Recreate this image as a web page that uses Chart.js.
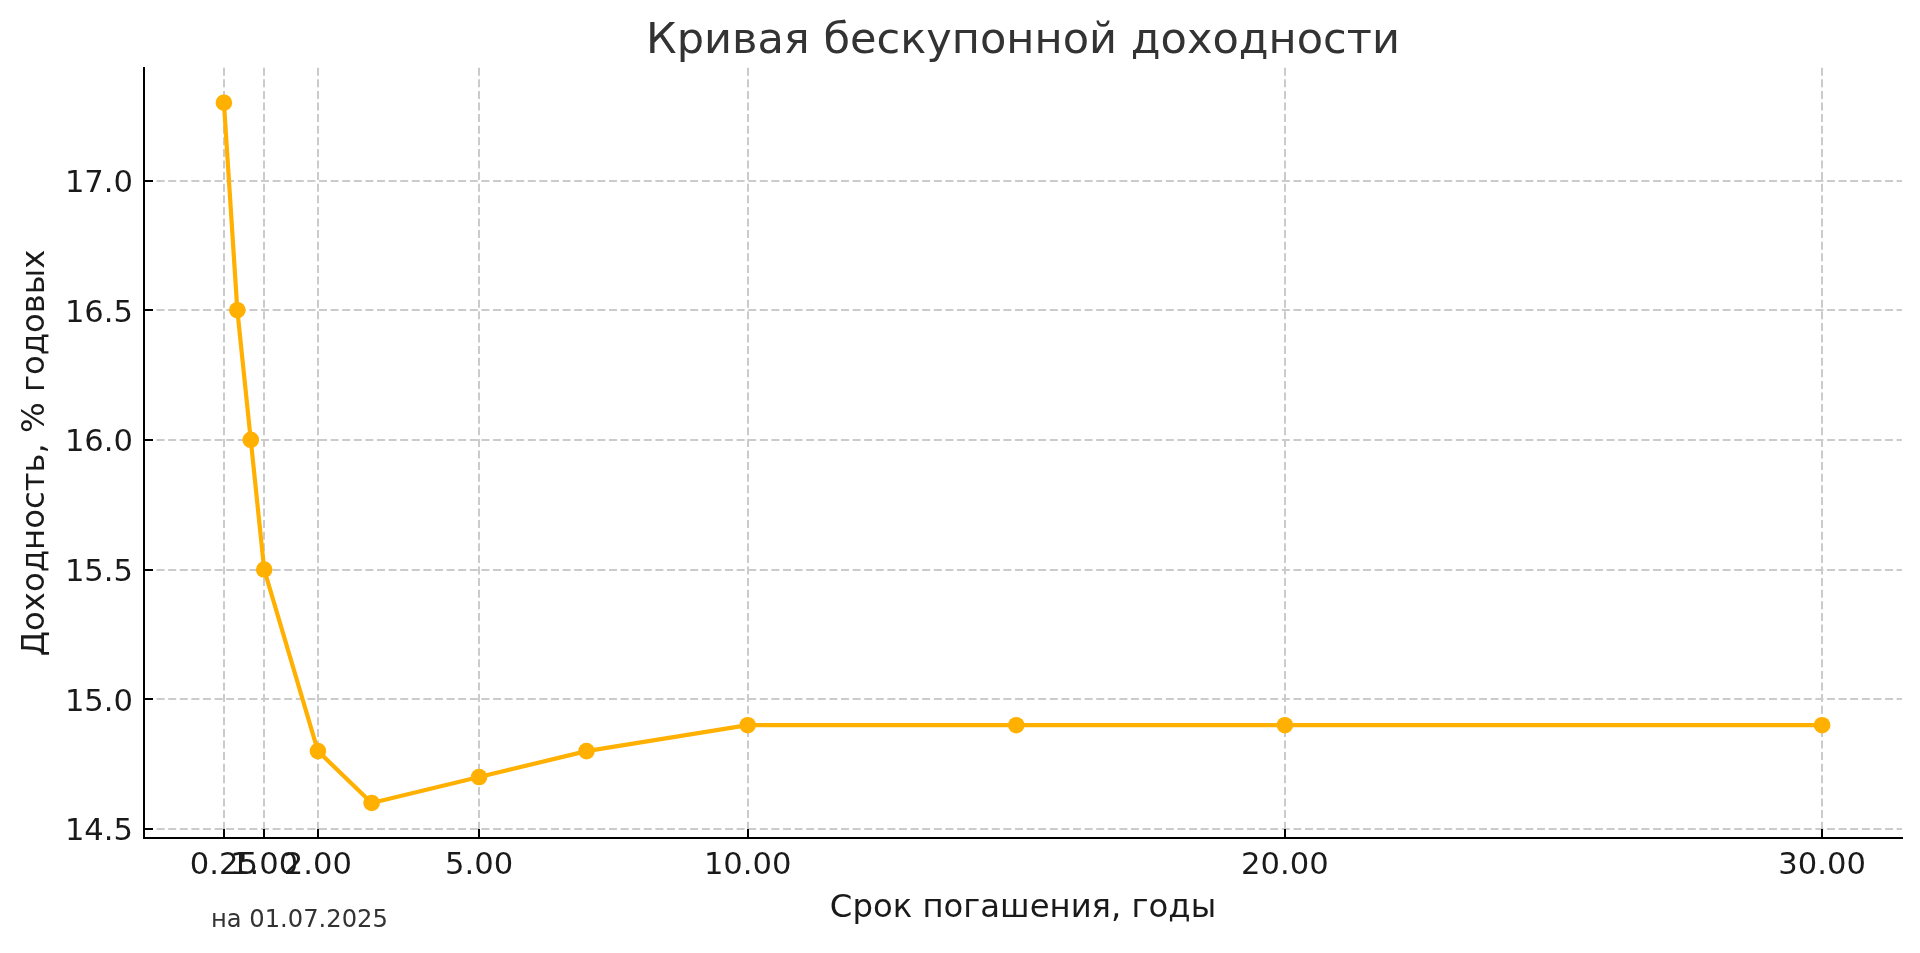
<!DOCTYPE html>
<html>
<head>
<meta charset="utf-8">
<title>Кривая бескупонной доходности</title>
<script src="https://cdn.jsdelivr.net/npm/chart.js@4.4.1/dist/chart.umd.min.js"></script>
<style>
  html, body { margin: 0; padding: 0; background: #fff; }
  #wrap { width: 1920px; height: 953px; }
</style>
</head>
<body>
<div id="wrap"><canvas id="yieldChart" width="1920" height="953"></canvas></div>
<script>
// срок погашения, лет
var maturities = [0.25, 0.5, 0.75, 1, 2, 3, 5, 7, 10, 15, 20, 30];
// доходность, % годовых
var yields = [17.3, 16.5, 16.0, 15.5, 14.8, 14.6, 14.7, 14.8, 14.9, 14.9, 14.9, 14.9];

// tick positions as in the picture
var xTicks = [0.25, 1, 2, 5, 10, 20, 30];
var yTicks = [14.5, 15.0, 15.5, 16.0, 16.5, 17.0];
var xLimits = [-1.2375, 31.4875];
var yLimits = [14.465, 17.435];

var titleText = 'Кривая бескупонной доходности';
var xLabel = 'Срок погашения, годы';
var yLabel = 'Доходность, % годовых';
var note = 'на 01.07.2025';

var FONT = '"DejaVu Sans", "Noto Sans", sans-serif';
var lineColor = '#ffb000';

var points = maturities.map(function (m, i) {
    return {x: m, y: yields[i]};
});

<!-- ticks pointing inward + small date note -->
var extras = {
    id: 'extras',
    beforeDatasetsDraw: function (chart) {
        var ctx = chart.ctx, xs = chart.scales.x, ys = chart.scales.y;
        ctx.save();
        ctx.strokeStyle = '#000';
        ctx.lineWidth = 2;
        ctx.beginPath();
        xTicks.forEach(function (v) {
            var p = Math.round(xs.getPixelForValue(v));
            ctx.moveTo(p, xs.top);
            ctx.lineTo(p, xs.top - 9);
        });
        yTicks.forEach(function (v) {
            var p = Math.round(ys.getPixelForValue(v));
            ctx.moveTo(ys.right, p);
            ctx.lineTo(ys.right + 9, p);
        });
        ctx.stroke();
        ctx.restore();
    },
    afterDraw: function (chart) {
        var ctx = chart.ctx;
        ctx.save();
        ctx.font = '24.2px ' + FONT;
        ctx.fillStyle = '#333';
        ctx.textBaseline = 'middle';
        ctx.textAlign = 'left';
        ctx.fillText(note, 211, 921);
        ctx.restore();
    }
};

new Chart(document.getElementById('yieldChart'), {
    type: 'scatter',
    data: {
        datasets: [{
            label: yLabel,
            data: points,
            showLine: true,
            borderColor: lineColor,
            backgroundColor: lineColor,
            borderWidth: 4.2,
            pointRadius: 8.3,
            pointBorderWidth: 0,
            pointHoverRadius: 8.3,
            tension: 0
        }]
    },
    options: {
        responsive: false,
        devicePixelRatio: 1,
        animation: false,
        layout: {padding: {left: 0, right: 18, top: 0, bottom: 0}},
        plugins: {
            legend: {display: false},
            tooltip: {enabled: false},
            title: {
                display: true,
                text: titleText,
                fullSize: false,
                color: '#333',
                font: {family: FONT, size: 43.1, weight: 'normal'},
                padding: {top: 16, bottom: 0}
            }
        },
        scales: {
            x: {
                type: 'linear',
                min: xLimits[0],
                max: xLimits[1],
                afterBuildTicks: function (s) {
                    s.ticks = xTicks.map(function (v) { return {value: v}; });
                },
                afterFit: function (s) { s.height = 115; },
                ticks: {
                    autoSkip: false, maxRotation: 0, minRotation: 0,
                    padding: 10, color: '#1a1a1a',
                    font: {family: FONT, size: 30.6},
                    callback: function (v) { return Number(v).toFixed(2); }
                },
                grid: {color: '#cbcbcb', lineWidth: 2, drawTicks: false},
                border: {display: true, color: '#000', width: 2, dash: [8, 3.6]},
                title: {
                    display: true, text: xLabel, color: '#1a1a1a',
                    font: {family: FONT, size: 32.3},
                    padding: {top: 0, bottom: 25}
                }
            },
            y: {
                type: 'linear',
                min: yLimits[0],
                max: yLimits[1],
                afterBuildTicks: function (s) {
                    s.ticks = yTicks.map(function (v) { return {value: v}; });
                },
                afterFit: function (s) { s.width = 144; },
                ticks: {
                    padding: 11, labelOffset: 3.5, color: '#1a1a1a',
                    font: {family: FONT, size: 30.6},
                    callback: function (v) { return Number(v).toFixed(1); }
                },
                grid: {color: '#cbcbcb', lineWidth: 2, drawTicks: false},
                border: {display: true, color: '#000', width: 2, dash: [8, 3.6]},
                title: {
                    display: true, text: yLabel, color: '#1a1a1a',
                    font: {family: FONT, size: 32.3},
                    padding: {top: 16, bottom: 0}
                }
            }
        }
    },
    plugins: [extras]
});
</script>
</body>
</html>
